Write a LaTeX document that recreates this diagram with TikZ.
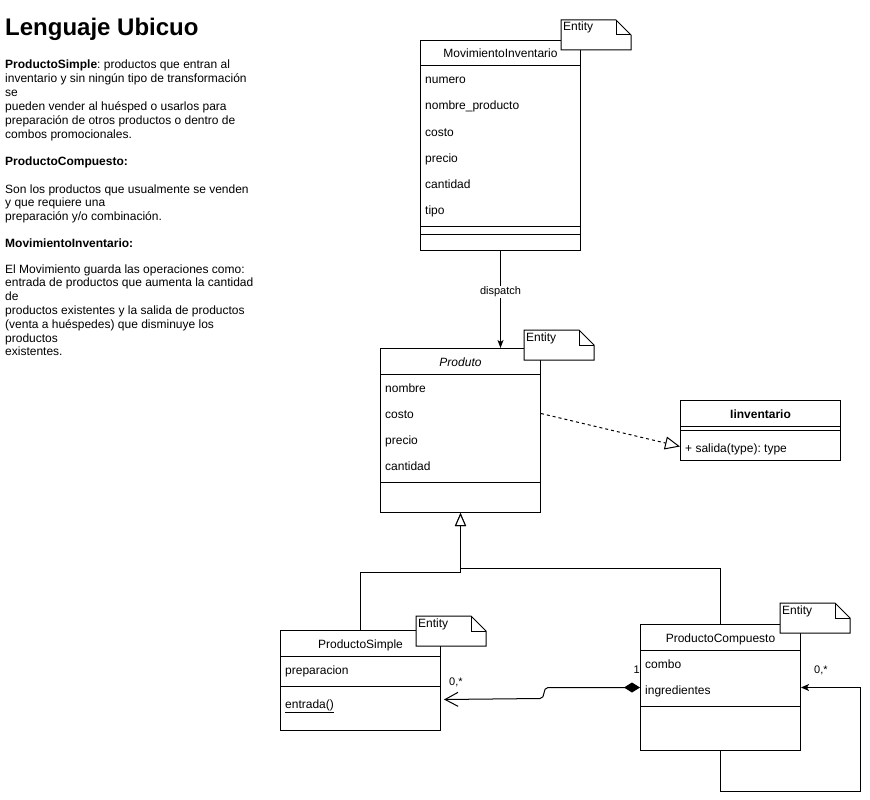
\documentclass[tikz,border=0pt]{standalone}
\usepackage{fontspec}
\setmainfont{Liberation Sans}
\frenchspacing
\usetikzlibrary{
  arrows.meta,
  calc,
  positioning
}
\newcommand{\umlfont}{\fontsize{12}{14}\selectfont}
\newcommand{\umllabelfont}{\fontsize{11}{13}\selectfont}
\newcommand{\umltitlefont}{\bfseries\fontsize{24}{28}\selectfont}
\tikzset{
  % Shared typography and class box geometry.
  every node/.style={font=\umlfont, inner sep=0pt},
  class box/.style={
    draw,
    fill=white,
    line width=1pt,
    anchor=north west,
    minimum width=160pt,
    minimum height=#1,
    inner sep=0pt
  },
  class title/.style={anchor=base},
  attr text/.style={anchor=base west},
  class line/.style={line width=1pt},
  entity note/.style={draw, fill=white, line width=1pt},
  note label/.style={anchor=base west},
  desc text/.style={anchor=base west},
  title text/.style={anchor=base west, font=\umltitlefont},
  edge label/.style={fill=white, inner sep=1pt, font=\umllabelfont},
  mult label/.style={font=\umllabelfont},
  flow/.style={
    -{Stealth[length=8pt,width=6pt,inset=2pt]},
    line width=1pt
  },
  self flow/.style={
    -{Stealth[length=8pt,width=7pt,inset=2pt]},
    line width=1pt
  },
  inherit/.style={
    -{Triangle[length=13pt,width=11pt,fill=white]},
    line width=1pt
  },
  realize/.style={
    -{Triangle[length=15pt,width=13pt,fill=white]},
    dash pattern=on 3pt off 3pt,
    line width=1pt
  },
  compose/.style={
    {Diamond[length=16pt,width=10pt]}-{Straight Barb[length=13pt,width=14pt]},
    line width=1pt
  }
}

\begin{document}
\begin{tikzpicture}[x=1pt, y=-1pt]

\fill[white] (0,0) rectangle (870,800);
\useasboundingbox (0,0) rectangle (870,800);

% ---------------------------------------------------------------------------
% Ubiquitous language notes
% ---------------------------------------------------------------------------
\node[title text] (ubicuoTitle) at (5,36) {Lenguaje Ubicuo};

\foreach \ly/\ltext [count=\k] in {
  69/{\textbf{ProductoSimple}: productos que entran al},
  82.8/{inventario y sin ningún tipo de transformación},
  96.6/{se},
  110.4/{pueden vender al huésped o usarlos para},
  124.2/{preparación de otros productos o dentro de},
  138/{combos promocionales.},
  165/{\textbf{ProductoCompuesto:}},
  193/{Son los productos que usualmente se venden},
  206.8/{y que requiere una},
  220.6/{preparación y/o combinación.},
  247/{\textbf{MovimientoInventario:}},
  273/{El Movimiento guarda las operaciones como:},
  286.8/{entrada de productos que aumenta la cantidad},
  300.6/{de},
  314.4/{productos existentes y la salida de productos},
  328.2/{(venta a huéspedes) que disminuye los},
  342/{productos},
  355.8/{existentes.}
}{
  \node[desc text] (desc\k) at (5,\ly) {\ltext};
}

% ---------------------------------------------------------------------------
% Class boxes
% ---------------------------------------------------------------------------
\node[class box=210pt] (movBox) at (420,40) {};
\node[class title] (movTitle) at ($(movBox.north)+(0,18)$) {MovimientoInventario};
\foreach \i/\attr in {0/numero, 1/nombre\_producto, 2/costo, 3/precio, 4/cantidad, 5/tipo}{
  \node[attr text] (movAttr\i) at ($(movBox.north west)+(5,44+26*\i)$) {\attr};
}
\foreach \dy in {26,186,194}{
  \draw[class line] ($(movBox.north west)+(0,\dy)$) -- ($(movBox.north east)+(0,\dy)$);
}

\node[class box=164pt] (produtoBox) at (380,348) {};
\node[class title] (produtoTitle) at ($(produtoBox.north)+(0,18)$) {\itshape Produto};
\foreach \i/\attr in {0/nombre, 1/costo, 2/precio, 3/cantidad}{
  \node[attr text] (produtoAttr\i) at ($(produtoBox.north west)+(5,44+26*\i)$) {\attr};
}
\foreach \dy in {26,134}{
  \draw[class line] ($(produtoBox.north west)+(0,\dy)$) -- ($(produtoBox.north east)+(0,\dy)$);
}

\node[class box=60pt] (inventBox) at (680,400) {};
\node[class title] (inventTitle) at ($(inventBox.north)+(0,18)$) {\bfseries Iinventario};
\node[attr text] (inventMethod) at ($(inventBox.north west)+(5,52)$) {+ salida(type): type};
\foreach \dy in {26,30}{
  \draw[class line] ($(inventBox.north west)+(0,\dy)$) -- ($(inventBox.north east)+(0,\dy)$);
}

\node[class box=100pt] (simpleBox) at (280,630) {};
\node[class title] (simpleTitle) at ($(simpleBox.north)+(0,18)$) {ProductoSimple};
\node[attr text] (simpleAttr) at ($(simpleBox.north west)+(5,44)$) {preparacion};
\node[attr text] (simpleMethod) at ($(simpleBox.north west)+(5,78)$) {\underline{entrada()}};
\foreach \dy in {26,56}{
  \draw[class line] ($(simpleBox.north west)+(0,\dy)$) -- ($(simpleBox.north east)+(0,\dy)$);
}

\node[class box=126pt] (compBox) at (640,624) {};
\node[class title] (compTitle) at ($(compBox.north)+(0,18)$) {ProductoCompuesto};
\foreach \i/\attr in {0/combo, 1/ingredientes}{
  \node[attr text] (compAttr\i) at ($(compBox.north west)+(5,44+26*\i)$) {\attr};
}
\foreach \dy in {26,82}{
  \draw[class line] ($(compBox.north west)+(0,\dy)$) -- ($(compBox.north east)+(0,\dy)$);
}

% Entity stereotype notes, drawn over the box corners.
\foreach \nx/\ny/\name in {561/20/movNote, 524/330/produtoNote, 416/616/simpleNote, 780/603/compNote}{
  \filldraw[entity note] (\nx,\ny) -- ++(55,0) -- ++(15,15) -- ++(0,15) -- ++(-70,0) -- cycle;
  \draw[class line] (\nx+55,\ny) -- ++(0,15) -- ++(15,0);
  \node[note label] (\name) at (\nx+2,\ny+11) {Entity};
}

% ---------------------------------------------------------------------------
% Relations
% ---------------------------------------------------------------------------
\draw[flow] (movBox.south) --
  node[edge label, pos=0.42] (dispatchLabel) {dispatch}
  (movBox.south |- produtoBox.north);

\draw[realize] ([yshift=17pt]produtoBox.east) -- ([yshift=-16pt]inventBox.west);

\draw[inherit] (simpleBox.north) -- ++(0,-58) -| (produtoBox.south);
\draw[inherit] (compBox.north) -- ++(0,-56) -| (produtoBox.south);

\coordinate (compBend) at ($(compBox.west)+(-92,0)$);
\draw[compose] (compBox.west) -- (compBend)
  .. controls ($(compBend)+(-6,0)$) and ($(compBend)+(-2,11)$) .. ($(compBend)+(-8,11)$)
  -- ([xshift=3pt,yshift=-19pt]simpleBox.east);
\node[mult label, anchor=base east] (compOne) at ([yshift=14pt]compBox.west) {1};
\node[mult label, anchor=base west] (simpleMany) at ([xshift=8pt,yshift=-5pt]simpleBox.east) {0,*};

\draw[self flow] (compBox.south) -- ++(0,40) -- ++(140,0) |- (compBox.east);
\node[mult label, anchor=base west] (compMany) at ([xshift=13pt,yshift=14pt]compBox.east) {0,*};

\end{tikzpicture}
\end{document}
